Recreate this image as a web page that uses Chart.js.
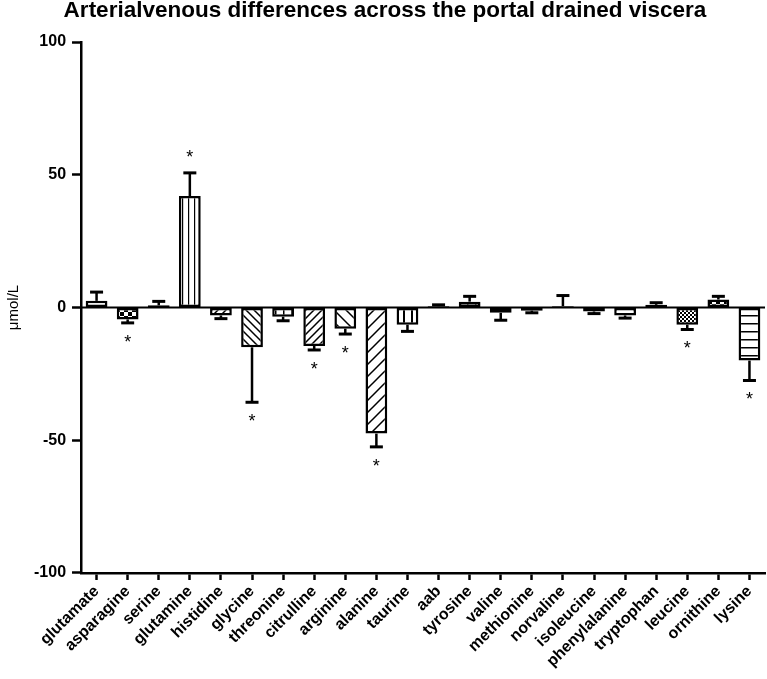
<!DOCTYPE html>
<html>
<head>
<meta charset="utf-8">
<script src="https://cdn.jsdelivr.net/npm/chart.js@4.4.1/dist/chart.umd.min.js"></script>
<style>
  body { margin: 0; background: #fff; overflow: hidden; }
  #wrap { width: 767px; height: 679px; }
</style>
</head>
<body>
<div id="wrap"><canvas id="avChart" width="767" height="679"></canvas></div>
<script>
const categories = ['glutamate', 'asparagine', 'serine', 'glutamine', 'histidine', 'glycine', 'threonine',
    'citrulline', 'arginine', 'alanine', 'taurine', 'aab', 'tyrosine', 'valine', 'methionine', 'norvaline',
    'isoleucine', 'phenylalanine', 'tryptophan', 'leucine', 'ornithine', 'lysine'];
const values = [2.5, -4.5, 0.8, 42, -3, -15, -3.5, -14.5, -8, -47.5, -6.5, 0.5, 2.2, -2, -1.2, 0.5, -1.5, -3, 1, -6.5, 3, -20];
const errors = [3.3, 1.3, 1.5, 8.7, 1.2, 20.7, 1.5, 1.5, 2, 5, 2.5, 0.5, 2, 2.8, 0.8, 4, 0.8, 1, 0.8, 1.8, 1.2, 7.5];
const significant = [false, true, false, true, false, true, false, true, true, true, false, false, false, false,
    false, false, false, false, false, true, false, true];
const fills = ['dots', 'checker', 'dots', 'vlines', 'diagUpDense', 'diagDown', 'boxes', 'diagUpDense', 'diagDownWide',
    'diagUpWide', 'vline', 'blank', 'boxes', 'boxes', 'blank', 'blank', 'blank', 'dots', 'blank', 'fineChecker',
    'checker', 'hlines'];
const yTicks = [-100, -50, 0, 50, 100];

const FONT = '"Liberation Sans", Arial, sans-serif';

function makePattern(kind) {
    const c = document.createElement('canvas');
    let s = 8;
    if (kind === 'diagUpWide' || kind === 'diagDownWide') s = 12;
    if (kind === 'vlines') s = 6;
    c.width = s; c.height = s;
    const g = c.getContext('2d');
    g.fillStyle = '#fff';
    g.fillRect(0, 0, s, s);
    g.strokeStyle = '#000';
    g.fillStyle = '#000';
    g.lineWidth = 1.5;
    if (kind === 'dots') {
        g.fillRect(1, 3, 3, 2);
    } else if (kind === 'checker') {
        g.fillRect(0, 0, 4, 4);
        g.fillRect(4, 4, 4, 4);
    } else if (kind === 'fineChecker') {
        for (let i = 0; i < 4; i++)
            for (let j = 0; j < 4; j++)
                if ((i + j) % 2 === 0) g.fillRect(i * 2, j * 2, 2, 2);
    } else if (kind === 'vlines') {
        g.fillRect(2, 0, 1.2, s);
    } else if (kind === 'vline') {
        g.fillRect(3, 0, 2, s);
    } else if (kind === 'hlines') {
        g.fillRect(0, 3, s, 1.5);
    } else if (kind === 'boxes') {
        g.fillRect(3, 0, 1.5, s);
    } else if (kind.startsWith('diag')) {
        g.beginPath();
        if (kind.startsWith('diagUp')) {
            g.moveTo(0, s); g.lineTo(s, 0);
            g.moveTo(-s, s); g.lineTo(s / 2, -s / 2);
            g.moveTo(s / 2, s * 1.5); g.lineTo(s * 2, 0);
        } else {
            g.moveTo(0, 0); g.lineTo(s, s);
            g.moveTo(-s / 2, s / 2); g.lineTo(s / 2, s * 1.5);
            g.moveTo(s / 2, -s / 2); g.lineTo(s * 1.5, s / 2);
        }
        g.stroke();
    }
    return g.createPattern(c, 'repeat');
}

const errorBars = {
    id: 'errorBars',
    afterDatasetsDraw(chart) {
        const ctx = chart.ctx;
        const meta = chart.getDatasetMeta(0);
        const y = chart.scales.y;
        ctx.save();
        ctx.strokeStyle = '#000';
        ctx.fillStyle = '#000';
        meta.data.forEach((bar, i) => {
            const v = values[i];
            const end = v >= 0 ? v + errors[i] : v - errors[i];
            const y0 = y.getPixelForValue(v);
            const y1 = y.getPixelForValue(end);
            ctx.lineWidth = 2.5;
            ctx.beginPath();
            ctx.moveTo(bar.x, y0);
            ctx.lineTo(bar.x, y1);
            ctx.stroke();
            ctx.lineWidth = 3;
            ctx.beginPath();
            ctx.moveTo(bar.x - 6.5, y1);
            ctx.lineTo(bar.x + 6.5, y1);
            ctx.stroke();
            if (significant[i]) {
                ctx.font = '18px ' + FONT;
                ctx.textAlign = 'center';
                ctx.textBaseline = 'middle';
                const off = v >= 0 ? -15 : 20;
                ctx.fillText('*', bar.x, y1 + off);
            }
        });
        // zero baseline
        const zy = y.getPixelForValue(0);
        ctx.lineWidth = 2;
        ctx.beginPath();
        ctx.moveTo(chart.chartArea.left, zy);
        ctx.lineTo(chart.chartArea.right, zy);
        ctx.stroke();
        ctx.restore();
    }
};

new Chart(document.getElementById('avChart'), {
    type: 'bar',
    data: {
        labels: categories,
        datasets: [
            {
                data: values,
                backgroundColor: fills.map(makePattern),
                borderColor: '#000',
                borderWidth: 2.5,
                borderSkipped: false,
                barPercentage: 0.7,
                categoryPercentage: 1
            }
        ]
    },
    options: {
        responsive: false,
        animation: false,
        layout: { padding: { top: 0, right: 2, left: 5, bottom: 6 } },
        plugins: {
            legend: { display: false },
            tooltip: { enabled: false },
            title: {
                display: true,
                text: 'Arterialvenous differences across the portal drained viscera',
                color: '#000',
                font: { family: FONT, size: 22.5, weight: 'bold', lineHeight: 1 },
                padding: { top: 0, bottom: 19.5 }
            }
        },
        scales: {
            x: {
                afterFit: axis => { axis.paddingLeft = 0; },
                grid: { display: true, drawOnChartArea: false, offset: false, tickLength: 7, tickColor: '#000', tickWidth: 2.5 },
                border: { display: true, color: '#000', width: 2.5 },
                ticks: {
                    color: '#000',
                    minRotation: 45,
                    maxRotation: 45,
                    autoSkip: false,
                    padding: 2,
                    font: { family: FONT, size: 16, weight: 'bold' }
                }
            },
            y: {
                min: -100,
                max: 100,
                afterBuildTicks: axis => { axis.ticks = yTicks.map(v => ({ value: v })); },
                grid: { drawOnChartArea: false, tickLength: 9, tickColor: '#000', tickWidth: 2.5 },
                border: { display: true, color: '#000', width: 2.5 },
                ticks: {
                    color: '#000',
                    padding: 6,
                    font: { family: FONT, size: 16, weight: 'bold' }
                },
                title: {
                    display: true,
                    text: 'μmol/L',
                    color: '#000',
                    padding: { top: 0, bottom: 5 },
                    font: { family: FONT, size: 15 }
                }
            }
        }
    },
    plugins: [errorBars]
});
</script>
</body>
</html>
